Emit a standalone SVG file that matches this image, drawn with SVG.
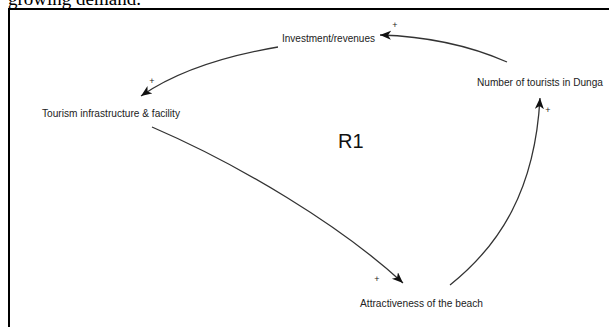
<svg xmlns="http://www.w3.org/2000/svg" width="609" height="327" viewBox="0 0 609 327">
<style>
.lbl{font-family:"Liberation Sans",Arial,sans-serif;font-size:10px;fill:#222}
.pol{font-family:"Liberation Sans",Arial,sans-serif;font-size:9px;fill:#222}
.link{fill:none;stroke:#333;stroke-width:1.3}
</style>
<defs>
<marker id="ah" markerUnits="userSpaceOnUse" markerWidth="12" markerHeight="10" refX="11" refY="4.5" orient="auto">
<path d="M0,0 L11,4.5 L0,9 L3,4.5 z" fill="#111"/>
</marker>
</defs>
<rect width="609" height="327" fill="#fff"/>
<text x="8" y="5" font-family="Liberation Serif,serif" font-size="19" fill="#000">growing demand.</text>
<path d="M9,327 L9,9 L609,9" fill="none" stroke="#000" stroke-width="2"/>
<g id="connectors">
<path class="link" d="M507,62 Q450,37 380,35" marker-end="url(#ah)"/>
<path class="link" d="M278,47 Q190,62 141,96" marker-end="url(#ah)"/>
<path class="link" d="M152,127 C240,165 340,225 403,283" marker-end="url(#ah)"/>
<path class="link" d="M450,285 C500,245 535,190 540,98" marker-end="url(#ah)"/>
<text class="pol" x="395" y="28" text-anchor="middle">+</text>
<text class="pol" x="152" y="84" text-anchor="middle">+</text>
<text class="pol" x="377" y="282" text-anchor="middle">+</text>
<text class="pol" x="548" y="113" text-anchor="middle">+</text>
</g>
<g id="investment"><text class="lbl" x="282" y="41.5" textLength="93" lengthAdjust="spacingAndGlyphs">Investment/revenues</text></g>
<g id="infrastructure"><text class="lbl" x="42" y="116.5" textLength="138" lengthAdjust="spacingAndGlyphs">Tourism infrastructure &amp; facility</text></g>
<g id="tourists"><text class="lbl" x="477" y="85.5" textLength="126" lengthAdjust="spacingAndGlyphs">Number of tourists in Dunga</text></g>
<g id="attractiveness"><text class="lbl" x="360" y="306.5" textLength="123" lengthAdjust="spacingAndGlyphs">Attractiveness of the beach</text></g>
<g id="loop"><text x="338" y="148" font-family="Liberation Sans,Arial,sans-serif" font-size="20" fill="#111">R1</text></g>
</svg>
